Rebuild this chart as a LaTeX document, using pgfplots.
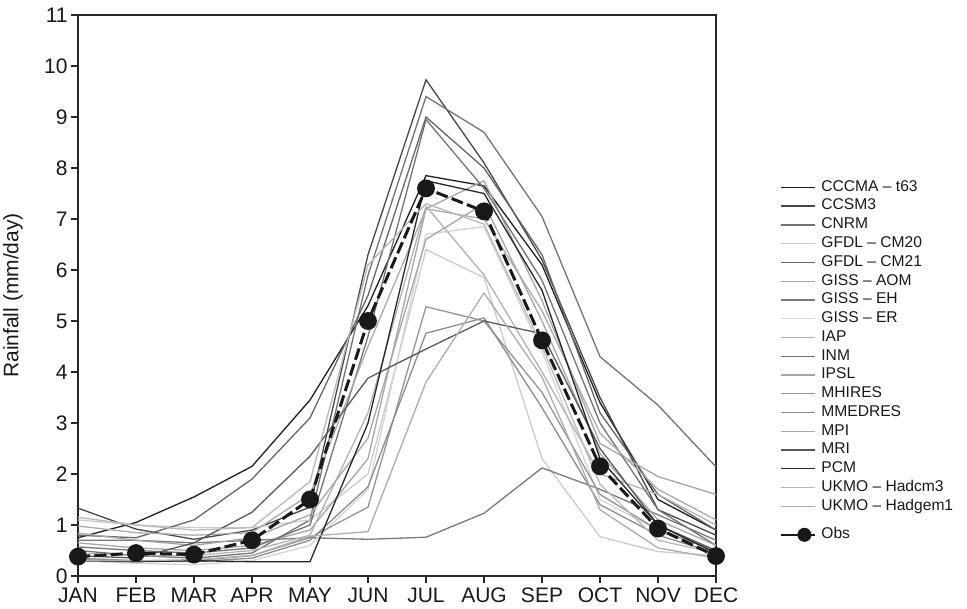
\documentclass[border=0pt]{standalone}
\usepackage{pgfplots}
\usepackage{pgfplotstable}
\pgfplotsset{compat=1.18}
\usepackage{fontspec}
\setmainfont{Liberation Sans}

\tikzset{entry/.style={text height=6.6pt, text depth=2.78pt}}
\pgfplotsset{obslegend/.style={legend image code/.code={%
  \draw[##1, solid, line width=1pt, mark size=3pt, mark indices={2}]
    plot coordinates {(0pt,0pt) (11.5pt,0pt) (17pt,0pt)};}}}

% Monthly mean rainfall (mm/day): 18 models and observations
\pgfplotstableread{
m cccma ccsm gfdlcm ncnrm gfdlx gissaom gisseh gisser iap inm ipsl mhires mmedres mpi mri pcm hadcm hadgem obs
0  0.75 1.33 0.50 1.10 0.80 0.65 0.70 0.30 0.45 0.57 0.84 0.35 0.32 0.98 0.40 0.30 1.15 0.30 0.38
1  1.05 0.92 0.40 1.00 0.75 0.55 0.70 0.25 0.40 0.50 0.70 0.30 0.30 0.85 0.35 0.28 1.00 0.30 0.45
2  1.55 0.72 0.35 0.95 1.10 0.50 0.65 0.22 0.40 0.45 0.60 0.30 0.28 0.80 0.65 0.30 0.90 0.32 0.42
3  2.15 0.90 0.45 0.95 1.90 0.60 0.70 0.30 0.50 0.55 0.75 0.40 0.35 0.85 1.25 0.28 0.95 0.40 0.70
4  3.45 1.35 1.10 1.10 3.10 0.90 0.75 0.60 0.80 1.00 1.20 0.75 0.70 1.60 2.35 0.28 1.85 0.78 1.50
5  5.30 6.30 5.90 2.00 5.50 2.30 0.72 1.70 3.20 4.70 2.70 1.35 1.75 4.50 3.88 3.00 6.10 0.87 5.00
6  7.85 9.73 9.40 6.40 9.00 7.20 0.76 6.70 7.25 8.95 6.60 5.28 4.76 7.20 4.45 7.75 7.30 3.80 7.60
7  7.65 8.10 8.70 5.85 8.00 7.75 1.23 6.85 5.90 7.60 7.30 5.00 5.06 7.00 5.00 7.50 6.90 5.55 7.15
8  6.10 6.20 7.05 2.30 6.30 5.40 2.12 4.40 4.00 5.80 5.00 3.60 3.30 5.20 4.75 5.60 4.50 3.90 4.62
9  3.40 3.50 4.30 0.77 3.20 2.60 1.70 1.50 2.00 3.00 2.40 1.60 1.40 2.80 2.50 2.30 1.80 1.30 2.15
10 1.50 1.30 3.35 0.48 1.60 1.95 1.20 0.90 1.60 1.30 1.10 0.90 0.80 1.70 1.00 1.00 0.70 0.55 0.93
11 0.90 0.80 2.14 0.40 0.90 1.60 0.70 0.50 1.00 0.60 0.60 0.50 0.45 1.10 0.50 0.45 0.45 0.35 0.39
}\rain

\begin{document}
\begin{tikzpicture}
\useasboundingbox (-39pt,-16.5pt) rectangle (444.5pt,288pt);
\begin{axis}[
  scale only axis,
  width=319pt, height=280.5pt,
  xmin=0, xmax=11, ymin=0, ymax=11,
  xtick={0,...,11},
  xticklabels={JAN,FEB,MAR,APR,MAY,JUN,JUL,AUG,SEP,OCT,NOV,DEC},
  ytick={0,...,11},
  tick align=outside,
  major tick length=3.5pt,
  xtick pos=bottom, ytick pos=left,
  axis line style={line width=0.9pt, black!85},
  tick style={line width=0.7pt, black!85},
  ticklabel style={font=\fontsize{10.5}{12}\selectfont, black!90},
  /pgf/number format/assume math mode=true,
  xticklabel style={inner sep=2.3pt},
  yticklabel style={inner sep=1.5pt},
  ylabel={Rainfall (mm/day)},
  every axis y label/.style={at={([xshift=-32.5pt]axis description cs:0,0.5)},rotate=90,anchor=center},
  ylabel style={font=\fontsize{10.5}{12}\selectfont, black!90},
  legend cell align=left,
  legend style={
    at={([xshift=32pt,yshift=-81.3pt]axis description cs:1,1)}, anchor=north west,
    draw=none, fill=none, inner sep=0pt, row sep=0pt,
    font=\fontsize{7.8}{9}\selectfont, text=black!90,
    nodes={inner ysep=0pt, inner xsep=2.5pt},
  },
  legend image code/.code={\draw[#1] (0pt,0pt) -- (17pt,0pt);},
  every axis plot/.append style={line width=0.65pt},
]
\addplot[black!88] table[x=m,y=cccma]{\rain};   \addlegendentry[entry]{CCCMA -- t63}
\addplot[black!72] table[x=m,y=ccsm]{\rain};    \addlegendentry[entry]{CCSM3}
\addplot[black!55] table[x=m,y=gfdlcm]{\rain};  \addlegendentry[entry]{CNRM}
\addplot[black!20] table[x=m,y=ncnrm]{\rain};   \addlegendentry[entry]{GFDL -- CM20}
\addplot[black!60] table[x=m,y=gfdlx]{\rain};   \addlegendentry[entry]{GFDL -- CM21}
\addplot[black!35] table[x=m,y=gissaom]{\rain}; \addlegendentry[entry]{GISS -- AOM}
\addplot[black!52] table[x=m,y=gisseh]{\rain};  \addlegendentry[entry]{GISS -- EH}
\addplot[black!17] table[x=m,y=gisser]{\rain};  \addlegendentry[entry]{GISS -- ER}
\addplot[black!30] table[x=m,y=iap]{\rain};     \addlegendentry[entry]{IAP}
\addplot[black!55] table[x=m,y=inm]{\rain};     \addlegendentry[entry]{INM}
\addplot[black!35] table[x=m,y=ipsl]{\rain};    \addlegendentry[entry]{IPSL}
\addplot[black!42] table[x=m,y=mhires]{\rain};  \addlegendentry[entry]{MHIRES}
\addplot[black!45] table[x=m,y=mmedres]{\rain}; \addlegendentry[entry]{MMEDRES}
\addplot[black!33] table[x=m,y=mpi]{\rain};     \addlegendentry[entry]{MPI}
\addplot[black!65] table[x=m,y=mri]{\rain};     \addlegendentry[entry]{MRI}
\addplot[black!85] table[x=m,y=pcm]{\rain};     \addlegendentry[entry]{PCM}
\addplot[black!28] table[x=m,y=hadcm]{\rain};   \addlegendentry[entry]{UKMO -- Hadcm3}
\addplot[black!32] table[x=m,y=hadgem]{\rain};  \addlegendentry[entry]{UKMO -- Hadgem1}
\addlegendimage{empty legend}
\addlegendentry[text height=4.87pt, text depth=0pt]{}
\addplot[black!90, line width=1.5pt, dash pattern=on 6pt off 2.2pt,
         mark=*, mark size=3.7pt, mark options={solid, fill=black!90},
         obslegend]
  table[x=m,y=obs]{\rain};
\addlegendentry[entry]{Obs}
\end{axis}
\end{tikzpicture}
\end{document}
